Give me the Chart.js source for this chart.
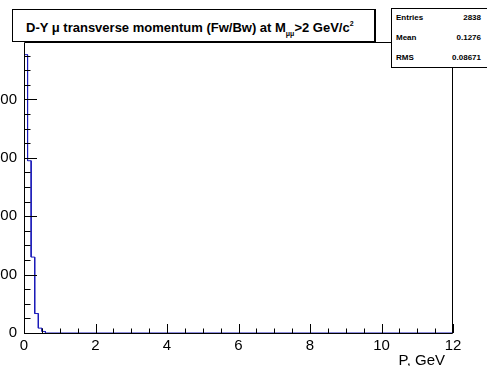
<!DOCTYPE html>
<html>
<head>
<meta charset="utf-8">
<script src="https://cdn.jsdelivr.net/npm/chart.js@4.4.1/dist/chart.umd.min.js"></script>
<style>
  body { margin: 0; background: #fff; }
  #wrap { position: relative; width: 487px; height: 366px; overflow: hidden;
          font-family: "Liberation Sans", Arial, Helvetica, sans-serif; color: #000; }
  #plot { position: absolute; left: 0; top: 0; }
  .box { position: absolute; background: #fff; border: 1px solid #000; box-sizing: border-box; }
  #title { left: 12px; top: 9px; width: 364px; height: 33px; font-weight: bold; font-size: 13px;
           line-height: 28px; padding-left: 13px; white-space: nowrap; border-right-width: 2px; }
  #title sub { font-size: 7px; vertical-align: -4px; }
  #title sup { font-size: 7px; vertical-align: 6px; }
  #stats { left: 391px; top: 8px; width: 110px; height: 60px; font-weight: bold; font-size: 8px; }
  #stats .row { position: absolute; left: 4px; width: 85px; height: 12px; line-height: 12px; }
  #stats .row span { float: right; }
  #xtitle { position: absolute; right: 42px; top: 351px; font-size: 15px; white-space: nowrap; }
</style>
</head>
<body>
<div id="wrap">
  <canvas id="plot" width="487" height="366"></canvas>
  <div class="box" id="title">D-Y &mu; transverse momentum (Fw/Bw) at M<sub>&mu;&mu;</sub>&gt;2 GeV/c<sup>2</sup></div>
  <div class="box" id="stats">
    <div class="row" style="top:3px">Entries<span id="sEntries"></span></div>
    <div class="row" style="top:23px">Mean<span id="sMean"></span></div>
    <div class="row" style="top:43px">RMS<span id="sRms"></span></div>
  </div>
  <div id="xtitle">P, GeV</div>
</div>
<script>
// histogram bins (low edges, GeV) and counts per bin
var binEdges = [0, 0.1, 0.2, 0.3, 0.4, 0.5, 0.6];
var binCounts = [1430, 885, 390, 100, 25, 8];

// stats box
var statEntries = '2838';
var statMean = '0.1276';
var statRms = '0.08671';

// axis ranges and labelled ticks
var xRange = [0, 12];
var yRange = [0, 1495];
var xTicks = [0, 2, 4, 6, 8, 10, 12];
var yTicks = [0, 300, 600, 900, 1200];
var xMinor = 0.5;
var yMinor = 75;

document.getElementById('sEntries').textContent = statEntries;
document.getElementById('sMean').textContent = statMean;
document.getElementById('sRms').textContent = statRms;

// turn bins into an outline: up the left edge, across each top, down at the end
var outline = [{ x: binEdges[0], y: 0 }];
for (var i = 0; i < binCounts.length; i++) {
    outline.push({ x: binEdges[i], y: binCounts[i] });
    outline.push({ x: binEdges[i + 1], y: binCounts[i] });
}
outline.push({ x: binEdges[binEdges.length - 1], y: 0 });
outline.push({ x: xRange[1], y: 0 });

function isMajor(v, list) {
    return list.some(function (t) { return Math.abs(t - v) < 1e-6; });
}

// frame and inward tick marks, ROOT style
var frameTicks = {
    id: 'frameTicks',
    afterDatasetsDraw: function (chart) {
        var ctx = chart.ctx;
        var a = chart.chartArea;
        var xs = chart.scales.x;
        var ys = chart.scales.y;
        ctx.save();
        ctx.strokeStyle = '#000';
        ctx.lineWidth = 1;
        ctx.beginPath();
        ctx.rect(a.left + 0.5, a.top + 0.5, a.right - a.left - 1, a.bottom - a.top);
        ctx.stroke();

        ctx.beginPath();
        var v, px, major;
        for (v = xRange[0]; v <= xRange[1] + 1e-9; v += xMinor) {
            px = Math.round(xs.getPixelForValue(v)) + 0.5;
            major = isMajor(v, xTicks);
            ctx.moveTo(px, a.bottom);
            ctx.lineTo(px, a.bottom - (major ? 9 : 4.5));
        }
        for (v = yRange[0]; v <= yRange[1]; v += yMinor) {
            px = Math.round(ys.getPixelForValue(v)) + 0.5;
            major = isMajor(v, yTicks);
            ctx.moveTo(a.left, px);
            ctx.lineTo(a.left + (major ? 13 : 6.5), px);
        }
        ctx.stroke();
        ctx.restore();
    }
};

var labelFont = { family: '"Liberation Sans", Arial, sans-serif', size: 15 };

var ctx = document.getElementById('plot').getContext('2d');
new Chart(ctx, {
    type: 'line',
    data: {
        datasets: [{
            data: outline,
            borderColor: '#1a1ab8',
            borderWidth: 1,
            pointRadius: 0,
            tension: 0,
            fill: false
        }]
    },
    options: {
        responsive: false,
        animation: false,
        events: [],
        layout: { padding: { left: 0, top: 42, right: 34, bottom: 0 } },
        plugins: { legend: { display: false }, tooltip: { enabled: false }, title: { display: false } },
        scales: {
            x: {
                type: 'linear',
                min: xRange[0],
                max: xRange[1],
                grid: { display: false, drawTicks: false },
                border: { display: false },
                afterBuildTicks: function (s) { s.ticks = xTicks.map(function (v) { return { value: v }; }); },
                ticks: { maxRotation: 0, autoSkip: false, padding: 4, color: '#000', font: labelFont },
                afterFit: function (s) { s.height = 33; }
            },
            y: {
                type: 'linear',
                min: yRange[0],
                max: yRange[1],
                grid: { display: false, drawTicks: false },
                border: { display: false },
                afterBuildTicks: function (s) { s.ticks = yTicks.map(function (v) { return { value: v }; }); },
                ticks: { autoSkip: false, padding: 7, color: '#000', font: labelFont },
                afterFit: function (s) { s.width = 24; }
            }
        }
    },
    plugins: [frameTicks]
});
</script>
</body>
</html>
